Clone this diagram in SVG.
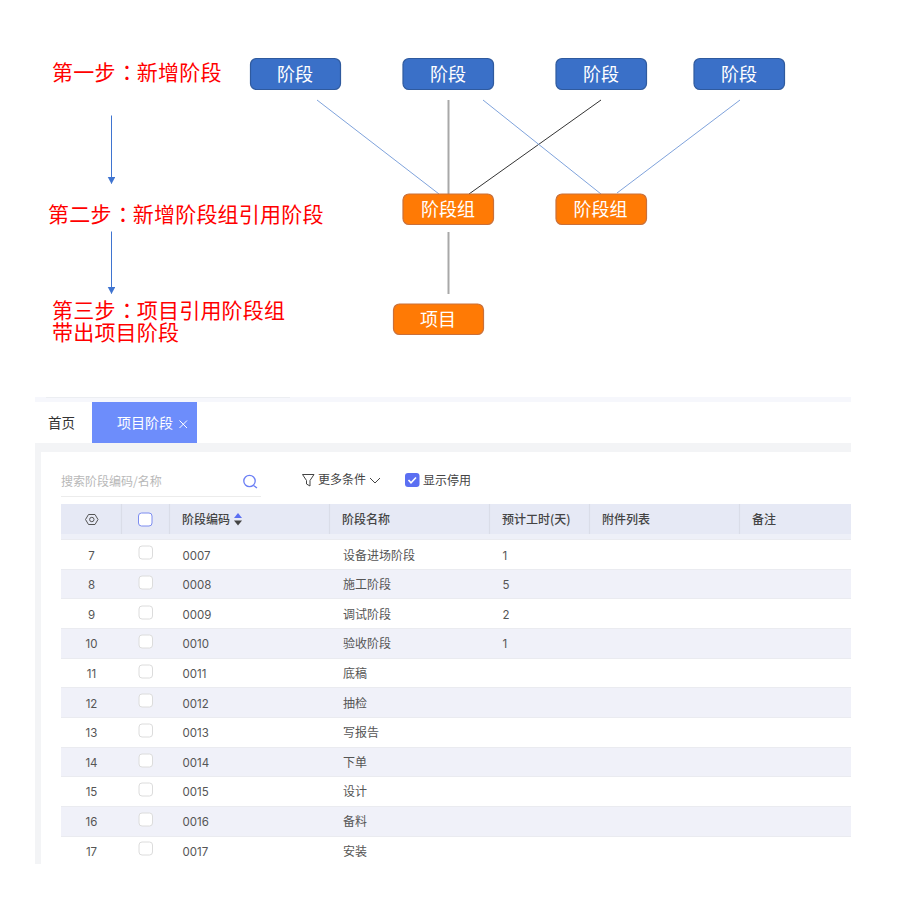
<svg xmlns="http://www.w3.org/2000/svg" width="913" height="903" viewBox="0 0 913 903">
<defs>
<style>
text{font-family:"Noto Sans CJK SC","Liberation Sans",sans-serif}
.step{font-size:21px;letter-spacing:.2px;fill:#ff0000}
.colon{font-family:"Noto Sans CJK TC",sans-serif}
.nt{font-size:18px;fill:#fff;text-anchor:middle;dominant-baseline:central}
.blue{fill:#3a70c8;stroke:#2f5a9e;stroke-width:1.2}
.orange{fill:#ff7a05;stroke:#c9703a;stroke-width:1.2}
.th{font-size:12px;fill:#444;font-weight:500}
.td{font-size:12px;fill:#555}
.num{font-family:Inter,"Liberation Sans",sans-serif;font-size:11.500px;fill:#555}
.tn{font-family:Inter,"Liberation Sans",sans-serif;font-size:11.500px;fill:#555;text-anchor:middle}
.cb{fill:#fff;stroke:#dcdcdc;stroke-width:1}
.sh{fill:#f0f1f9}
.rl{stroke:#eaebf0;stroke-width:1}
.sep{stroke:#dadde8;stroke-width:1.2}
.lb{stroke:#7fa3dc;stroke-width:1;fill:none}
.gr{stroke:#a8a8a8;stroke-width:2;fill:none}
.ar{stroke:#3f74d0;stroke-width:1;fill:none}
</style>
<marker id="ah" markerUnits="userSpaceOnUse" markerWidth="7" markerHeight="8" refX="6.500" refY="3.750" orient="auto"><path d="M0 0L7 3.750L0 7.500Z" fill="#3f74d0"/></marker>
</defs>
<rect width="913" height="903" fill="#fff"/>
<g id="steps">
<text class="step" x="52" y="80">第一步<tspan class="colon" dx="1">：</tspan><tspan dx="-1">新增阶段</tspan></text>
<text class="step" x="48" y="221.500">第二步<tspan class="colon" dx="1">：</tspan><tspan dx="-1">新增阶段组引用阶段</tspan></text>
<text class="step" x="52" y="318">第三步<tspan class="colon" dx="1">：</tspan><tspan dx="-1">项目引用阶段组</tspan><tspan x="52" dy="21.500">带出项目阶段</tspan></text>
</g>
<g id="connectors">
<path class="ar" d="M111.500 115.500V183.500" marker-end="url(#ah)"/>
<path class="ar" d="M111.500 231.500V293.500" marker-end="url(#ah)"/>
<path class="lb" d="M317 100L439 194"/>
<path class="gr" d="M448.500 100V194"/>
<path class="gr" d="M448.500 232V294"/>
<path d="M601 100L469 194" stroke="#333" stroke-width="1" fill="none"/>
<path class="lb" d="M483 100L601 194"/>
<path class="lb" d="M740 100L617 193"/>
</g>
<g id="stage1"><rect class="blue" x="250.500" y="58.500" width="90" height="31" rx="6"/><text class="nt" x="295" y="73">阶段</text></g>
<g id="stage2"><rect class="blue" x="403" y="58.500" width="90.500" height="31" rx="6"/><text class="nt" x="448" y="73">阶段</text></g>
<g id="stage3"><rect class="blue" x="556" y="58.500" width="90.500" height="31" rx="6"/><text class="nt" x="601" y="73">阶段</text></g>
<g id="stage4"><rect class="blue" x="694" y="58.500" width="90.500" height="31" rx="6"/><text class="nt" x="739" y="73">阶段</text></g>
<g id="group1"><rect class="orange" x="403" y="194" width="90.500" height="30.500" rx="6"/><text class="nt" x="448" y="208">阶段组</text></g>
<g id="group2"><rect class="orange" x="556" y="194" width="90.500" height="30.500" rx="6"/><text class="nt" x="600.500" y="208">阶段组</text></g>
<g id="project"><rect class="orange" x="393.500" y="304" width="90" height="30.500" rx="6"/><text class="nt" x="438" y="318">项目</text></g>
<g id="screenshot">
<rect x="35" y="397" width="816" height="5" fill="#f6f7fc"/>
<rect x="46" y="397" width="244" height="1" fill="#eceef2"/>
<rect x="35" y="443" width="816" height="9" fill="#f3f4f6"/>
<rect x="35" y="452" width="6" height="412" fill="#f3f4f6"/>
<text x="48" y="427.500" font-size="13.500" fill="#333">首页</text>
<rect x="92" y="402" width="105" height="41" fill="#6d8dfb"/>
<text x="117" y="428" font-size="14" fill="#fff">项目阶段</text>
<path d="M179.500 420.500L187 428M187 420.500L179.500 428" stroke="#fff" stroke-width="1" fill="none"/>
<text x="61" y="485.500" font-size="12" fill="#b8b8b8">搜索阶段编码/名称</text>
<rect x="61" y="496" width="200" height="1" fill="#ececec"/>
<circle cx="249.500" cy="481" r="5.700" fill="none" stroke="#6b7ff5" stroke-width="1.300"/>
<path d="M253.500 485.500L257 488" stroke="#6b7ff5" stroke-width="1.300" fill="none"/>
<path d="M302.500 474.500H314L310 480.500V486L306.500 484V480.500Z" fill="none" stroke="#444" stroke-width="1"/>
<text x="318" y="484" font-size="12" fill="#444">更多条件</text>
<path d="M370 478L375 483L380 478" fill="none" stroke="#444" stroke-width="1"/>
<rect x="405" y="473" width="14.500" height="14" rx="3" fill="#5b6ff2"/>
<path d="M408.500 480L411 482.800L416 477.500" fill="none" stroke="#fff" stroke-width="1.600"/>
<text x="423" y="485" font-size="12" fill="#444">显示停用</text>
<rect x="61" y="504" width="790" height="30" fill="#e6e9f5"/>
<rect x="61" y="534" width="790" height="5" fill="#eef0f8"/>
<path class="sep" d="M121.500 504V534M169.500 504V534M329.500 504V534M489.500 504V534M589.500 504V534M739.500 504V534"/>
<g fill="none" stroke="#555" stroke-width="1"><path d="M85.500 519.500L88.500 514.500H95L98 519.500L95 524.500H88.500Z"/><circle cx="91.800" cy="519.500" r="2.200"/></g>
<rect x="138.500" y="513" width="13.500" height="13" rx="3" fill="#fff" stroke="#7c8cf0" stroke-width="1"/>
<text class="th" x="182" y="524">阶段编码</text>
<path d="M234 518L238 513L242 518Z" fill="#5b6ff2"/><path d="M234 520.500L238 525.500L242 520.500Z" fill="#444"/>
<text class="th" x="342" y="524">阶段名称</text>
<text class="th" x="502" y="524">预计工时(天)</text>
<text class="th" x="602" y="524">附件列表</text>
<text class="th" x="752" y="524">备注</text>
<rect class="sh" x="61" y="570" width="790" height="29"/>
<rect class="sh" x="61" y="629" width="790" height="29"/>
<rect class="sh" x="61" y="688" width="790" height="29"/>
<rect class="sh" x="61" y="748" width="790" height="29"/>
<rect class="sh" x="61" y="807" width="790" height="29"/>
<path class="rl" d="M61 539.500H851M61 569.500H851M61 598.500H851M61 628.500H851M61 658.500H851M61 687.500H851M61 717.500H851M61 747.500H851M61 776.500H851M61 806.500H851M61 836.500H851"/>
<g id="checks">
<rect class="cb" x="139" y="546" width="13.500" height="13" rx="3"/>
<rect class="cb" x="139" y="576" width="13.500" height="13" rx="3"/>
<rect class="cb" x="139" y="606" width="13.500" height="13" rx="3"/>
<rect class="cb" x="139" y="635" width="13.500" height="13" rx="3"/>
<rect class="cb" x="139" y="665" width="13.500" height="13" rx="3"/>
<rect class="cb" x="139" y="694" width="13.500" height="13" rx="3"/>
<rect class="cb" x="139" y="724" width="13.500" height="13" rx="3"/>
<rect class="cb" x="139" y="754" width="13.500" height="13" rx="3"/>
<rect class="cb" x="139" y="783" width="13.500" height="13" rx="3"/>
<rect class="cb" x="139" y="813" width="13.500" height="13" rx="3"/>
<rect class="cb" x="139" y="842" width="13.500" height="13" rx="3"/>
</g>
<text class="tn" x="91.500" y="559.500">7</text><text class="num" x="182.500" y="559.500">0007</text><text class="td" x="343" y="559.500">设备进场阶段</text><text class="num" x="502.500" y="559.500">1</text>
<text class="tn" x="91.500" y="589">8</text><text class="num" x="182.500" y="589">0008</text><text class="td" x="343" y="589">施工阶段</text><text class="num" x="502.500" y="589">5</text>
<text class="tn" x="91.500" y="618.500">9</text><text class="num" x="182.500" y="618.500">0009</text><text class="td" x="343" y="618.500">调试阶段</text><text class="num" x="502.500" y="618.500">2</text>
<text class="tn" x="91.500" y="648">10</text><text class="num" x="182.500" y="648">0010</text><text class="td" x="343" y="648">验收阶段</text><text class="num" x="502.500" y="648">1</text>
<text class="tn" x="91.500" y="677.500">11</text><text class="num" x="182.500" y="677.500">0011</text><text class="td" x="343" y="677.500">底稿</text>
<text class="tn" x="91.500" y="707.500">12</text><text class="num" x="182.500" y="707.500">0012</text><text class="td" x="343" y="707.500">抽检</text>
<text class="tn" x="91.500" y="737">13</text><text class="num" x="182.500" y="737">0013</text><text class="td" x="343" y="737">写报告</text>
<text class="tn" x="91.500" y="766.500">14</text><text class="num" x="182.500" y="766.500">0014</text><text class="td" x="343" y="766.500">下单</text>
<text class="tn" x="91.500" y="796">15</text><text class="num" x="182.500" y="796">0015</text><text class="td" x="343" y="796">设计</text>
<text class="tn" x="91.500" y="825.500">16</text><text class="num" x="182.500" y="825.500">0016</text><text class="td" x="343" y="825.500">备料</text>
<text class="tn" x="91.500" y="855.500">17</text><text class="num" x="182.500" y="855.500">0017</text><text class="td" x="343" y="855.500">安装</text>
</g>
</svg>
